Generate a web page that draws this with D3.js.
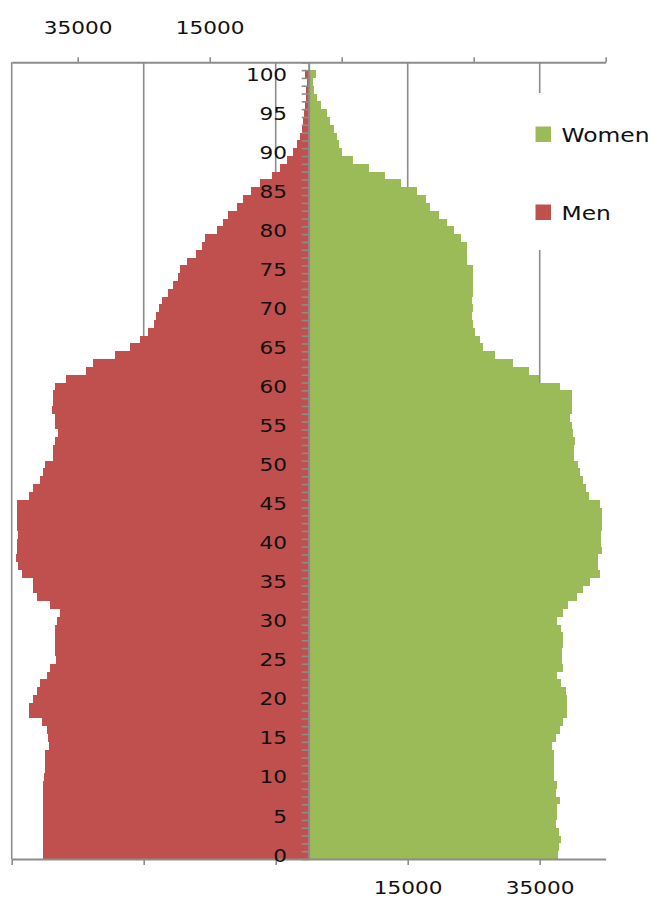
<!DOCTYPE html>
<html>
<head>
<meta charset="utf-8">
<script src="https://cdn.jsdelivr.net/npm/d3@7"></script>
<style>
  body { margin: 0; background: #fff; }
  svg { display: block; }
  text { font-family: "DejaVu Sans", sans-serif; fill: #111; }
</style>
</head>
<body>
<div id="chart"></div>
<script>
const w = 658;
const h = 904;

// ages 0..100, one bar each
const ages = d3.range(0, 101);

const men = [
  40300, 40300, 40200, 40200, 40300, 40200, 40300, 40200, 40300, 40200,
  40100, 39950, 39950, 39950, 39290, 39450, 39700, 40450, 42330, 42330,
  41720, 41210, 40710, 39700, 39200, 38280, 38440, 38440, 38440, 38440,
  38180, 37680, 39200, 41210, 41720, 41720, 43490, 44000, 44350, 44240,
  44240, 44000, 44240, 44240, 44240, 44240, 42330, 41720, 40710, 40300,
  39950, 38690, 38690, 38440, 37940, 38440, 38440, 38940, 38690, 38690,
  38440, 36770, 33740, 32640, 29350, 27080, 25560, 24300, 23440, 23140,
  22630, 22270, 21270, 20510, 19760, 19500, 18490, 17080, 16220, 15710,
  13940, 13030, 12270, 10910, 9900, 8790, 7380, 5610, 4350, 3330,
  2330, 1820, 1320, 1060, 820, 710, 550, 450, 350, 300,
  500
];

const women = [
  37830, 37980, 38180, 37980, 37480, 37680, 37680, 38080, 37480, 37680,
  37170, 37170, 37170, 37170, 36820, 37480, 38080, 38590, 39190, 39190,
  39190, 38990, 38180, 37580, 38490, 38330, 38330, 38490, 38490, 38180,
  37580, 38490, 39240, 40610, 41620, 42630, 44140, 43890, 43890, 44390,
  44290, 44340, 44390, 44390, 44390, 44140, 42480, 42020, 41520, 41110,
  40860, 40250, 40250, 40350, 40100, 39850, 39600, 39950, 39950, 39950,
  38080, 34940, 33430, 31000, 28230, 26460, 25950, 25200, 24940, 24700,
  24940, 24700, 24940, 24940, 24940, 24940, 23940, 23940, 23940, 23030,
  22020, 20910, 19790, 18380, 17770, 16360, 13940, 11560, 9140, 6670,
  5000, 4640, 4240, 3830, 3230, 2730, 1820, 1210, 800, 600,
  1100
];

const xTicks = [-45000, -25000, -5000, 15000, 35000];
const ageLabels = ages.filter((a) => a % 5 === 0);
const series = ["Women", "Men"];
const colors = { Women: "#9bbb59", Men: "#c0504d" };

const plotLeft = 11.7;
const plotRight = 605.7;
const plotTop = 62.3;
const plotBottom = 859;
const grey = "#8c8c8c";
const stretch = "scale(1.2,1)";

const svg = d3
  .select("#chart")
  .append("svg")
  .attr("width", w)
  .attr("height", h);

const xWomen = d3.scaleLinear().domain([-45000, 45000]).range([plotLeft, plotRight]);
const xMen = d3.scaleLinear().domain([45000, -45000]).range([plotLeft, plotRight]);

// an empty slot sits above age 100
const y = d3
  .scaleBand()
  .domain(["blank"].concat(ages.slice().reverse()))
  .range([plotTop, plotBottom]);
const yEdge = d3.scaleLinear().domain([0, ages.length + 1]).range([plotBottom, plotTop]);

// gridlines
svg
  .append("g")
  .selectAll("line")
  .data(xTicks)
  .enter()
  .append("line")
  .attr("x1", (d) => xWomen(d))
  .attr("x2", (d) => xWomen(d))
  .attr("y1", plotTop)
  .attr("y2", plotBottom)
  .attr("stroke", grey)
  .attr("stroke-width", 1.6);

// bars
svg
  .append("g")
  .selectAll("rect")
  .data(men)
  .enter()
  .append("rect")
  .attr("x", (d) => xMen(d))
  .attr("y", (d, i) => y(ages[i]))
  .attr("width", (d) => xMen(0) - xMen(d))
  .attr("height", y.bandwidth())
  .attr("fill", colors.Men)
  .attr("shape-rendering", "crispEdges");

svg
  .append("g")
  .selectAll("rect")
  .data(women)
  .enter()
  .append("rect")
  .attr("x", xWomen(0))
  .attr("y", (d, i) => y(ages[i]))
  .attr("width", (d) => xWomen(d) - xWomen(0))
  .attr("height", y.bandwidth())
  .attr("fill", colors.Women)
  .attr("shape-rendering", "crispEdges");

const styleAxis = (g) => {
  g.select(".domain").attr("stroke", grey).attr("stroke-width", 2);
  g.selectAll(".tick line").attr("stroke", grey).attr("stroke-width", 1.6);
  g.selectAll("text")
    .attr("font-size", 18)
    .attr("font-family", "DejaVu Sans, sans-serif")
    .attr("fill", "#111")
    .attr("transform", stretch);
};

const fmt = (d) => (d > 0 ? d : "");

// top axis for men (reversed)
const topAxis = svg
  .append("g")
  .attr("transform", "translate(0," + plotTop + ")")
  .call(d3.axisTop(xMen).tickValues(xTicks).tickSize(5).tickSizeOuter(0).tickFormat(fmt));
styleAxis(topAxis);
topAxis.selectAll("text").attr("y", -28).attr("dy", 0);

// bottom axis for women
const bottomAxis = svg
  .append("g")
  .attr("transform", "translate(0," + plotBottom + ")")
  .call(d3.axisBottom(xWomen).tickValues(xTicks).tickSize(6).tickSizeOuter(0).tickFormat(fmt));
styleAxis(bottomAxis);
bottomAxis.selectAll("text").attr("y", 35).attr("dy", 0);

// age ticks between bars
const edgeAxis = svg
  .append("g")
  .attr("transform", "translate(" + xWomen(0) + ",0)")
  .call(d3.axisLeft(yEdge).tickValues(d3.range(0, ages.length + 2)).tickSize(7).tickSizeOuter(0).tickFormat(""));
styleAxis(edgeAxis);

// age labels
const ageAxis = svg
  .append("g")
  .attr("transform", "translate(" + xWomen(0) + ",0)")
  .call(d3.axisLeft(y).tickValues(ageLabels).tickSize(0).tickSizeOuter(0));
styleAxis(ageAxis);
ageAxis.select(".domain").remove();
ageAxis.selectAll("text").attr("x", -18).attr("dy", "0.36em");

// legend
const legend = svg.append("g");
legend
  .append("rect")
  .attr("x", 528)
  .attr("y", 93)
  .attr("width", 126)
  .attr("height", 157)
  .attr("fill", "#fff");

const item = legend
  .selectAll("g")
  .data(series)
  .enter()
  .append("g")
  .attr("transform", (d, i) => "translate(535.5," + (126.5 + i * 78) + ")");

item
  .append("rect")
  .attr("width", 15.5)
  .attr("height", 15.5)
  .attr("fill", (d) => colors[d]);

item
  .append("g")
  .attr("transform", "translate(26,15)")
  .append("text")
  .attr("transform", stretch)
  .attr("font-size", 19.5)
  .text((d) => d);
</script>
</body>
</html>
